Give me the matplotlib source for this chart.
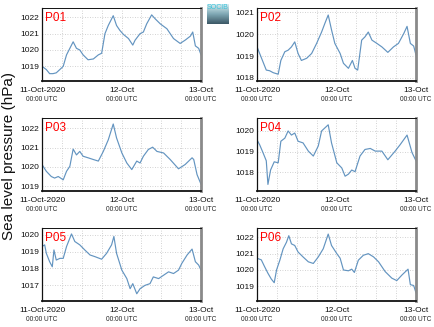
import numpy as np
import matplotlib
matplotlib.use("Agg")
import matplotlib.pyplot as plt
import matplotlib.dates as mdates

plt.rcParams['font.family'] = ['Liberation Sans', 'DejaVu Sans']

start = np.datetime64('2020-10-11T00:00')

# hours since 11-Oct-2020 00:00 UTC and sea level pressure (hPa)
p01_h = [0, 1.3, 2.3, 3.3, 4.3, 5.9, 6.4, 7.4, 8.4, 9.4, 10.4, 11.4, 12.4, 13.9, 15.5, 17.0, 18.0, 19.0, 20.0, 21.5,
         22.5, 23.5, 24.6, 26.1, 27.4, 28.1, 29.6, 30.6, 31.6, 33.1, 34.2, 35.7, 37.7, 39.7, 41.7, 43.2, 44.8, 45.5,
         46.3, 47.3, 48]
p01_v = [1019.0, 1018.8, 1018.55, 1018.55, 1018.6, 1018.9, 1019.0, 1019.7, 1020.1, 1020.5, 1020.1, 1020.0, 1019.7,
         1019.4, 1019.45, 1019.7, 1019.8, 1021.0, 1021.5, 1022.1, 1021.5, 1021.2, 1020.95, 1020.7, 1020.3, 1020.6,
         1021.0, 1021.1, 1021.6, 1022.15, 1021.9, 1021.6, 1021.3, 1020.7, 1020.4, 1020.6, 1020.85, 1021.1, 1020.25,
         1020.1, 1019.7]

p02_h = [0, 0.8, 1.8, 2.8, 3.8, 4.9, 6.4, 7.2, 8.4, 9.4, 10.4, 11.4, 12.4, 13.4, 15.0, 16.5, 18.0, 19.5, 20.5, 21.5,
         22.5, 23.5, 25.1, 26.1, 27.6, 28.8, 29.6, 30.4, 31.6, 32.6, 33.6, 34.7, 36.2, 37.7, 39.5, 41.2, 42.7, 44.3,
         45.3, 46.3, 47.3, 48]
p02_v = [1019.43, 1019.12, 1018.74, 1018.36, 1018.33, 1018.24, 1018.17, 1018.8, 1019.2, 1019.27, 1019.42, 1019.65,
         1019.12, 1018.8, 1018.9, 1019.12, 1019.58, 1020.1, 1020.5, 1020.88, 1020.2, 1019.58, 1019.12, 1018.67,
         1018.44, 1018.8, 1018.44, 1018.36, 1019.73, 1019.88, 1020.1, 1019.73, 1019.58, 1019.42, 1019.17, 1019.42,
         1019.58, 1020.03, 1020.36, 1019.58, 1019.46, 1019.05]

p03_h = [0, 1.3, 2.8, 3.8, 4.9, 6.4, 7.4, 8.4, 9.4, 10.4, 11.4, 12.4, 13.9, 15.5, 17.0, 18.5, 20.0, 21.5, 22.5, 24.1,
         25.6, 27.1, 28.6, 29.6, 30.6, 32.1, 33.4, 34.7, 36.7, 38.7, 41.2, 43.2, 45.3, 45.8, 46.8, 48]
p03_v = [1020.12, 1019.77, 1019.5, 1019.42, 1019.5, 1019.33, 1019.77, 1020.03, 1020.92, 1020.62, 1020.8, 1020.55,
         1020.47, 1020.38, 1020.3, 1020.8, 1021.4, 1022.22, 1021.5, 1020.72, 1020.2, 1019.86, 1020.3, 1020.2,
         1020.55, 1020.9, 1021.02, 1020.8, 1020.72, 1020.38, 1019.9, 1020.12, 1020.47, 1020.38, 1019.6, 1019.1]

p04_h = [0, 0.8, 1.8, 2.8, 3.3, 4.1, 5.2, 6.4, 7.2, 8.4, 9.4, 10.4, 11.4, 12.4, 13.9, 15.5, 17.0, 18.5, 19.5, 21.5,
         22.5, 24.1, 25.6, 26.6, 27.6, 28.6, 29.6, 31.1, 32.6, 34.2, 35.7, 37.7, 39.5, 41.7, 43.2, 45.3, 46.8, 48]
p04_v = [1019.57, 1019.33, 1018.95, 1018.55, 1017.4, 1018.1, 1018.5, 1018.45, 1019.5, 1019.65, 1020.0, 1019.8,
         1019.9, 1019.5, 1019.42, 1019.02, 1018.78, 1019.27, 1020.0, 1020.3, 1019.42, 1018.45, 1018.2, 1017.8,
         1017.9, 1018.1, 1018.02, 1018.78, 1019.1, 1019.15, 1019.02, 1019.02, 1018.6, 1019.02, 1019.33, 1019.8,
         1018.95, 1018.55]

p05_h = [0, 0.8, 1.3, 2.3, 3.1, 3.6, 4.3, 5.4, 6.4, 7.4, 8.4, 8.9, 9.9, 11.4, 12.9, 14.5, 16.0, 18.0, 19.5, 21.0,
         21.7, 22.5, 24.1, 25.6, 26.6, 27.4, 28.6, 29.6, 31.1, 32.6, 33.6, 35.2, 36.7, 38.2, 39.7, 41.2, 42.2, 43.8,
         45.3, 46.3, 47.3, 48]
p05_v = [1019.3, 1019.4, 1018.9, 1018.4, 1018.1, 1019.1, 1018.5, 1018.6, 1018.6, 1019.3, 1019.8, 1020.05, 1019.6,
         1019.4, 1019.1, 1018.8, 1018.7, 1018.55, 1018.9, 1019.4, 1019.9, 1018.9, 1017.9, 1017.4, 1016.8, 1017.1,
         1016.5, 1016.8, 1017.0, 1017.1, 1017.5, 1017.4, 1017.6, 1017.8, 1017.7, 1017.9, 1018.3, 1018.8, 1019.15,
         1018.4, 1018.2, 1017.9]

p06_h = [0, 1.3, 2.3, 3.3, 4.3, 5.2, 5.9, 6.9, 7.9, 8.9, 9.6, 10.4, 11.4, 12.4, 13.9, 15.5, 17.0, 18.5, 20.0, 21.5,
         22.5, 24.1, 25.1, 26.1, 27.6, 28.6, 29.4, 30.6, 32.1, 33.6, 35.2, 36.7, 38.7, 40.7, 42.2, 43.8, 45.6, 46.3,
         47.3, 48]
p06_v = [1020.72, 1020.62, 1020.2, 1019.8, 1019.45, 1019.22, 1020.0, 1020.6, 1021.3, 1021.7, 1022.1, 1021.6, 1021.5,
         1021.1, 1020.8, 1020.5, 1020.4, 1020.8, 1021.3, 1022.2, 1021.5, 1021.0, 1020.72, 1020.0, 1019.95, 1020.05,
         1019.85, 1020.6, 1020.9, 1021.0, 1020.8, 1020.5, 1019.9, 1019.5, 1019.35, 1019.7, 1020.05, 1019.1, 1019.05,
         1018.6]

names = ['P01', 'P02', 'P03', 'P04', 'P05', 'P06']
hours = [p01_h, p02_h, p03_h, p04_h, p05_h, p06_h]
values = [p01_v, p02_v, p03_v, p04_v, p05_v, p06_v]
ylims = [(1018.1, 1022.57), (1017.86, 1021.2), (1018.75, 1022.53),
         (1017.08, 1020.63), (1016.07, 1020.4), (1018.1, 1022.57)]

tick_days = [np.datetime64('2020-10-11'), np.datetime64('2020-10-12'), np.datetime64('2020-10-13')]
tick_top = ['11-Oct-2020', '12-Oct', '13-Oct']


def to_time(h):
    return start + (np.asarray(h) * 60).round().astype('timedelta64[m]')


fig = plt.figure(figsize=(4.35, 3.27), dpi=100)

lefts = [0.0966, 0.5908]
bottoms = [0.7523, 0.4159, 0.0795]
w, hgt = 0.3655, 0.2232

for i, name in enumerate(names):
    ax = fig.add_axes([lefts[i % 2], bottoms[i // 2], w, hgt])
    ax.plot(to_time(hours[i]), values[i], color='#6394c0', lw=0.85)
    ax.set_xlim(tick_days[0], tick_days[-1])
    ax.set_ylim(*ylims[i])

    ax.xaxis.set_minor_locator(mdates.HourLocator(byhour=[0, 6, 12, 18]))
    ax.set_xticks(tick_days)
    ax.set_xticklabels(tick_top)
    ax.yaxis.set_major_locator(matplotlib.ticker.MultipleLocator(1))
    ax.yaxis.set_major_formatter(matplotlib.ticker.FormatStrFormatter('%d'))
    ax.tick_params(axis='both', which='both', length=0, labelsize=6, pad=2, colors='#111111')
    ax.tick_params(axis='x', pad=4)
    ax.grid(True, which='both', axis='x', color='#c4c4c4', ls=(0, (1, 2)), lw=0.6)
    ax.grid(True, which='major', axis='y', color='#c4c4c4', ls=(0, (1, 2)), lw=0.6)

    for s in ['left', 'bottom', 'top']:
        ax.spines[s].set_color('#111111')
    ax.spines['left'].set_linewidth(0.9)
    ax.spines['top'].set_linewidth(0.7)
    ax.spines['bottom'].set_linewidth(1.3)
    ax.spines['right'].set_color('#8a8a8a')
    ax.spines['right'].set_linewidth(2.0)

    for d in tick_days:
        ax.text(d, -0.25, '00:00 UTC', transform=ax.get_xaxis_transform(),
                ha='center', va='center', fontsize=4.7, color='#222222')

    ax.text(0.02, 0.95, name, transform=ax.transAxes, ha='left', va='top',
            fontsize=8.5, color='red')

fig.text(0.02, 0.523, 'Sea level pressure (hPa)', rotation=90, ha='center', va='center',
         fontsize=11, color='#111111')

# small logo between the top panels
lax = fig.add_axes([207 / 435, 1 - 24 / 327, 22 / 435, 20 / 327])
grad = np.linspace(0, 1, 50).reshape(-1, 1)
lax.imshow(grad, aspect='auto', cmap=matplotlib.colors.LinearSegmentedColormap.from_list(
    'lg', ['#d8eef2', '#7fa8b4', '#3c5866']), extent=[0, 1, 0, 1])
lax.text(0.5, 0.82, 'SOCIB', ha='center', va='center', fontsize=5, color='#3cc4dc',
         transform=lax.transAxes)
lax.set_axis_off()

fig.savefig('out.png', dpi=100)
